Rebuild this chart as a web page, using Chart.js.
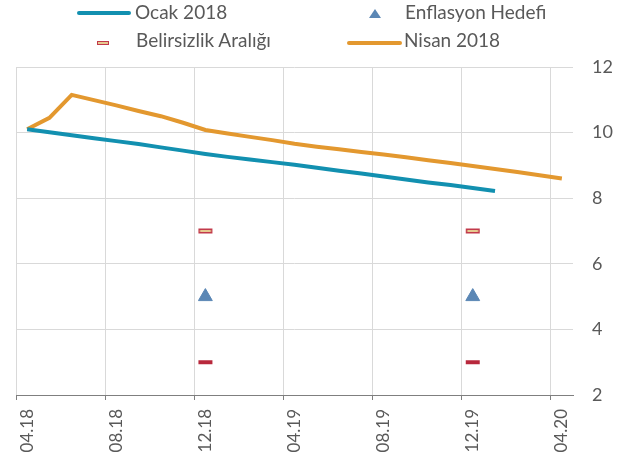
<!DOCTYPE html>
<html>
<head>
<meta charset="utf-8">
<script src="https://cdn.jsdelivr.net/npm/chart.js@4.4.2/dist/chart.umd.min.js"></script>
<style>
  body { margin: 0; background: #fff; }
  #wrap { position: relative; width: 636px; height: 461px; font-family: Lato, sans-serif; color: #595959; }
  #wrap canvas { position: absolute; left: 0; top: 0; }
  .lg-text { position: absolute; font-size: 19px; line-height: 19px; white-space: nowrap; }
  .lg-line { position: absolute; height: 4px; border-radius: 2px; }
  .lg-tri { position: absolute; width: 0; height: 0; border-left: 6px solid transparent; border-right: 6px solid transparent; border-bottom: 9px solid #5b87b5; }
  .lg-rect { position: absolute; width: 10px; height: 2px; border: 1px solid #c23a4b; background: #e6c98f; }
</style>
</head>
<body>
<div id="wrap">
  <canvas id="chart" width="636" height="461"></canvas>
  <div id="legend"></div>
</div>
<script>
const months = ['04.18', '05.18', '06.18', '07.18', '08.18', '09.18', '10.18', '11.18', '12.18',
  '01.19', '02.19', '03.19', '04.19', '05.19', '06.19', '07.19', '08.19', '09.19', '10.19',
  '11.19', '12.19', '01.20', '02.20', '03.20', '04.20'];

const ocak2018 = [10.10, 10.01, 9.92, 9.83, 9.74, 9.65, 9.55, 9.45, 9.35, 9.26, 9.18, 9.10, 9.02,
  8.93, 8.84, 8.75, 8.66, 8.57, 8.48, 8.40, 8.31, 8.22, null, null, null];

const nisan2018 = [10.10, 10.45, 11.15, 10.99, 10.83, 10.66, 10.50, 10.30, 10.08, 9.97, 9.87, 9.77,
  9.66, 9.57, 9.49, 9.41, 9.33, 9.25, 9.16, 9.07, 8.98, 8.89, 8.80, 8.70, 8.60];

const hedef = [null, null, null, null, null, null, null, null, 5, null, null, null, null,
  null, null, null, null, null, null, null, 5, null, null, null, null];

const aralikUst = [null, null, null, null, null, null, null, null, 7, null, null, null, null,
  null, null, null, null, null, null, null, 7, null, null, null, null];

const aralikAlt = [null, null, null, null, null, null, null, null, 3, null, null, null, null,
  null, null, null, null, null, null, null, 3, null, null, null, null];

const blue = '#1290b0';
const orange = '#e3982f';
const grey = '#595959';
const gridColor = '#d9d9d9';

// small bar-shaped markers for the uncertainty band
function barMarker(fill, stroke) {
  const c = document.createElement('canvas');
  c.width = 16;
  c.height = 6;
  const g = c.getContext('2d');
  if (stroke) {
    g.fillStyle = stroke;
    g.fillRect(1, 0.5, 14, 5);
    g.fillStyle = fill;
    g.fillRect(2.5, 2, 11, 2);
  } else {
    g.fillStyle = fill;
    g.fillRect(1, 1, 14, 4);
  }
  return c;
}

const every4 = (i) => i % 4 === 0;

new Chart(document.getElementById('chart'), {
  type: 'line',
  data: {
    labels: months,
    datasets: [
      {
        label: 'Ocak 2018',
        data: ocak2018,
        borderColor: blue,
        borderWidth: 4,
        pointRadius: 0,
        tension: 0
      },
      {
        label: 'Nisan 2018',
        data: nisan2018,
        borderColor: orange,
        borderWidth: 4,
        pointRadius: 0,
        tension: 0
      },
      {
        label: 'Enflasyon Hedefi',
        data: hedef,
        showLine: false,
        pointStyle: 'triangle',
        pointRadius: 8,
        backgroundColor: '#5b87b5',
        borderColor: '#5b87b5',
        borderWidth: 1
      },
      {
        label: 'Belirsizlik Aralığı',
        data: aralikUst,
        showLine: false,
        pointStyle: barMarker('#e6c98f', '#c23a4b'),
        pointRadius: 5
      },
      {
        label: 'Belirsizlik Aralığı (alt)',
        data: aralikAlt,
        showLine: false,
        pointStyle: barMarker('#b8283c'),
        pointRadius: 5
      }
    ]
  },
  options: {
    responsive: false,
    animation: false,
    layout: {
      padding: { top: 67, left: 16, right: 0, bottom: 0 }
    },
    plugins: {
      legend: { display: false },
      tooltip: { enabled: false }
    },
    scales: {
      x: {
        offset: true,
        grid: {
          offset: true,
          color: (ctx) => every4(ctx.index) ? gridColor : 'rgba(0,0,0,0)',
          tickColor: (ctx) => every4(ctx.index) ? '#7f7f7f' : 'rgba(0,0,0,0)',
          tickLength: 5
        },
        border: { display: true, color: '#7f7f7f' },
        ticks: {
          autoSkip: false,
          minRotation: 90,
          maxRotation: 90,
          padding: 9,
          color: grey,
          font: { family: 'Lato', size: 17 },
          callback: (value, i) => every4(i) ? months[i] : ''
        },
        afterFit: (scale) => { scale.height = 66; }
      },
      y: {
        position: 'right',
        min: 2,
        max: 12,
        grid: { color: gridColor, drawTicks: false },
        border: { display: false },
        ticks: {
          stepSize: 2,
          padding: 19,
          color: grey,
          font: { family: 'Lato', size: 18 }
        },
        afterFit: (scale) => { scale.width = 63; }
      }
    }
  }
});

// legend laid out in two columns like the original
const legend = document.getElementById('legend');
const items = [
  { kind: 'line', color: blue, x: 77, w: 54, y: 11, text: 'Ocak 2018', tx: 135, ty: 2 },
  { kind: 'tri', x: 369, y: 9, text: 'Enflasyon Hedefi', tx: 405, ty: 2 },
  { kind: 'rect', x: 97, y: 41, text: 'Belirsizlik Aralığı', tx: 136, ty: 30 },
  { kind: 'line', color: orange, x: 347, w: 55, y: 41, text: 'Nisan 2018', tx: 404, ty: 30 }
];
items.forEach((it) => {
  const m = document.createElement('div');
  m.className = 'lg-' + it.kind;
  m.style.left = it.x + 'px';
  m.style.top = it.y + 'px';
  if (it.kind === 'line') {
    m.style.width = it.w + 'px';
    m.style.background = it.color;
  }
  legend.appendChild(m);
  const t = document.createElement('div');
  t.className = 'lg-text';
  t.style.left = it.tx + 'px';
  t.style.top = it.ty + 'px';
  t.textContent = it.text;
  legend.appendChild(t);
});
</script>
</body>
</html>
